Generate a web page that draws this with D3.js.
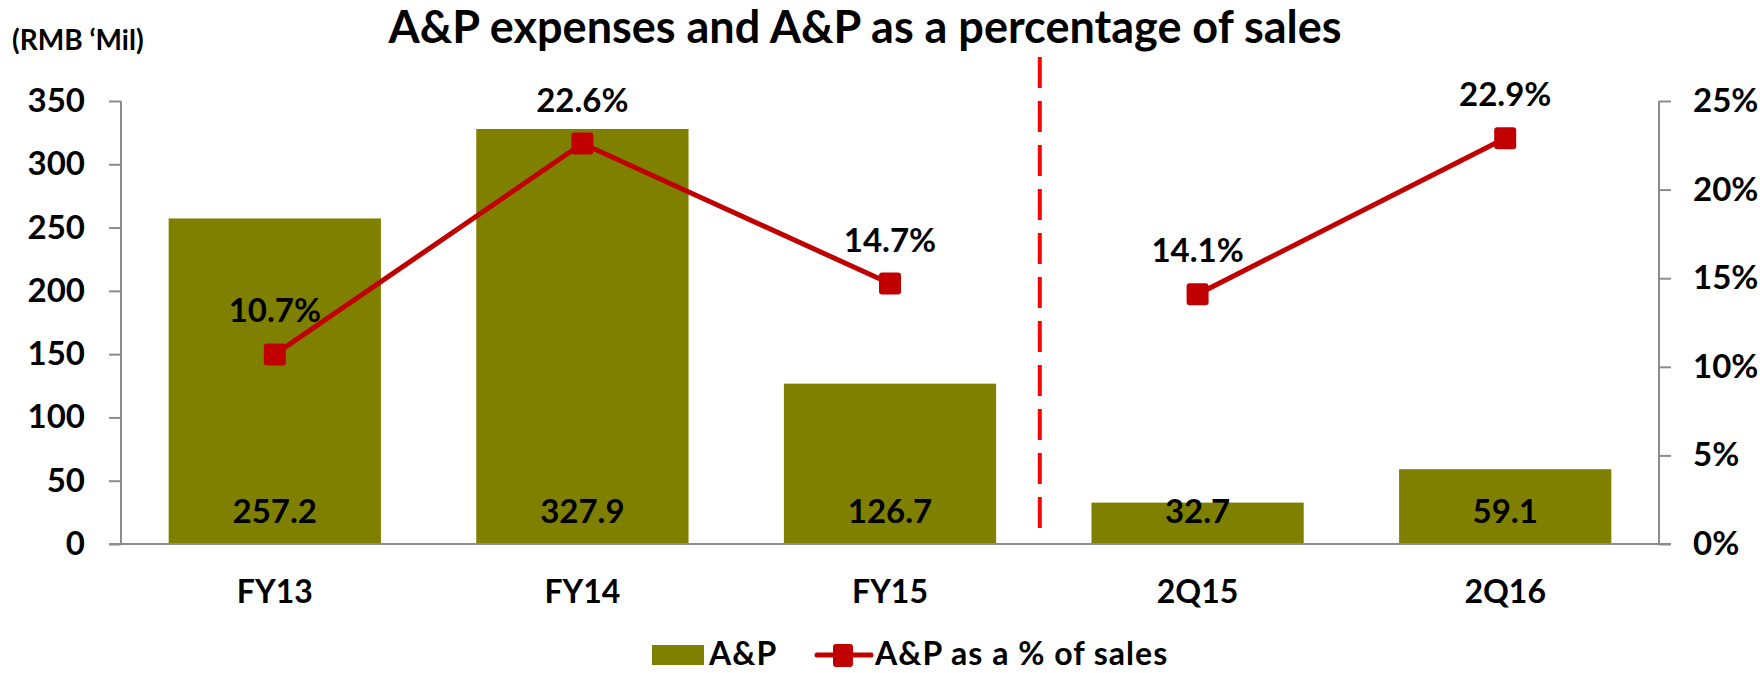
<!DOCTYPE html>
<html>
<head>
<meta charset="utf-8">
<script src="https://cdn.jsdelivr.net/npm/d3@7"></script>
<style>
  body { margin: 0; background: #fff; }
  text { font-family: Lato, "Open Sans", sans-serif; font-weight: bold; fill: #000; }
</style>
</head>
<body>
<svg id="chart" width="1760" height="673"></svg>
<script>
var categories = ["FY13", "FY14", "FY15", "2Q15", "2Q16"]
var apValues = [257.2, 327.9, 126.7, 32.7, 59.1]
var apPct = [10.7, 22.6, 14.7, 14.1, 22.9]
var leftTicks = [0, 50, 100, 150, 200, 250, 300, 350]
var rightTicks = [0, 5, 10, 15, 20, 25]

function drawChart() {
  var svg = d3.select("#chart")
  var pLeft = 121, pRight = 1659, pTop = 101, pBottom = 544

  var x = d3.scaleBand().domain(categories).range([pLeft, pRight]).paddingInner(0.31).paddingOuter(0.155)
  var y = d3.scaleLinear().domain([0, 350]).range([pBottom, pTop])
  var y2 = d3.scaleLinear().domain([0, 25]).range([pBottom, pTop])

  // title + unit
  svg.append("text").attr("x", 865).attr("y", 43).attr("text-anchor", "middle")
    .style("font-size", "45px").text("A&P expenses and A&P as a percentage of sales")
  svg.append("text").attr("x", 12).attr("y", 50).style("font-size", "28px").text("(RMB \u2018Mil)")

  // bars
  svg.selectAll(".bar").data(categories).enter().append("rect")
    .attr("x", d => x(d)).attr("width", x.bandwidth())
    .attr("y", (d, i) => y(apValues[i])).attr("height", (d, i) => y(0) - y(apValues[i]))
    .style("fill", "#808000")

  svg.selectAll(".barlbl").data(categories).enter().append("text")
    .attr("x", d => x(d) + x.bandwidth() / 2).attr("y", 523).attr("text-anchor", "middle")
    .style("font-size", "33px").text((d, i) => apValues[i].toFixed(1))

  // axes
  var axisL = svg.append("g").attr("transform", "translate(" + pLeft + ",0)")
    .call(d3.axisLeft(y).tickValues(leftTicks).tickSize(12).tickPadding(24))
  var axisR = svg.append("g").attr("transform", "translate(" + pRight + ",0)")
    .call(d3.axisRight(y2).tickValues(rightTicks).tickSize(12).tickPadding(22).tickFormat(d => d + "%"))
  ;[axisL, axisR].forEach(function (g) {
    g.select(".domain").remove()
    g.selectAll("line").attr("stroke", "#8c8c8c").attr("stroke-width", 2)
    g.selectAll("text").style("font-size", "33px").attr("fill", "#000")
  })
  svg.append("line").attr("x1", pLeft).attr("x2", pLeft).attr("y1", pTop).attr("y2", pBottom)
    .attr("stroke", "#8c8c8c").attr("stroke-width", 2)
  svg.append("line").attr("x1", pRight).attr("x2", pRight).attr("y1", pTop).attr("y2", pBottom)
    .attr("stroke", "#8c8c8c").attr("stroke-width", 2)
  svg.append("line").attr("x1", pLeft - 12).attr("x2", pRight + 12).attr("y1", pBottom).attr("y2", pBottom)
    .attr("stroke", "#8c8c8c").attr("stroke-width", 2)

  // category labels
  svg.selectAll(".cat").data(categories).enter().append("text")
    .attr("x", d => x(d) + x.bandwidth() / 2).attr("y", 603).attr("text-anchor", "middle")
    .style("font-size", "32px").text(d => d)

  // dashed divider between FY and quarterly
  var divX = (x("FY15") + x("2Q15") + x.bandwidth()) / 2 - 4
  svg.append("line").attr("x1", divX).attr("x2", divX).attr("y1", 57).attr("y2", 528)
    .attr("stroke", "#ff0000").attr("stroke-width", 4).attr("stroke-dasharray", "31,13")

  // pct line: FY part and quarterly part are separate
  var cx = d => x(d) + x.bandwidth() / 2
  var line = d3.line().x(d => cx(d)).y(d => y2(apPct[categories.indexOf(d)]))
  ;[["FY13", "FY14", "FY15"], ["2Q15", "2Q16"]].forEach(function (seg) {
    svg.append("path").attr("d", line(seg)).attr("fill", "none")
      .attr("stroke", "#c00000").attr("stroke-width", 5)
  })
  svg.selectAll(".mk").data(categories).enter().append("rect")
    .attr("x", d => cx(d) - 11).attr("y", (d, i) => y2(apPct[i]) - 11)
    .attr("width", 22).attr("height", 22).attr("rx", 3).style("fill", "#c00000")
  svg.selectAll(".pctlbl").data(categories).enter().append("text")
    .attr("x", d => cx(d)).attr("y", (d, i) => y2(apPct[i]) - 32).attr("text-anchor", "middle")
    .style("font-size", "33px").text((d, i) => apPct[i].toFixed(1) + "%")

  // legend
  svg.append("rect").attr("x", 652).attr("y", 645).attr("width", 52).attr("height", 20).style("fill", "#808000")
  svg.append("text").attr("x", 709).attr("y", 665).style("font-size", "32px").style("letter-spacing", "1px").text("A&P")
  svg.append("line").attr("x1", 817).attr("x2", 871).attr("y1", 655).attr("y2", 655)
    .attr("stroke", "#c00000").attr("stroke-width", 5).attr("stroke-linecap", "round")
  svg.append("rect").attr("x", 833).attr("y", 644).attr("width", 20).attr("height", 23).attr("rx", 3).style("fill", "#c00000")
  svg.append("text").attr("x", 875).attr("y", 665).style("font-size", "32px").style("letter-spacing", "1px").text("A&P as a % of sales")
}

drawChart()
</script>
</body>
</html>
